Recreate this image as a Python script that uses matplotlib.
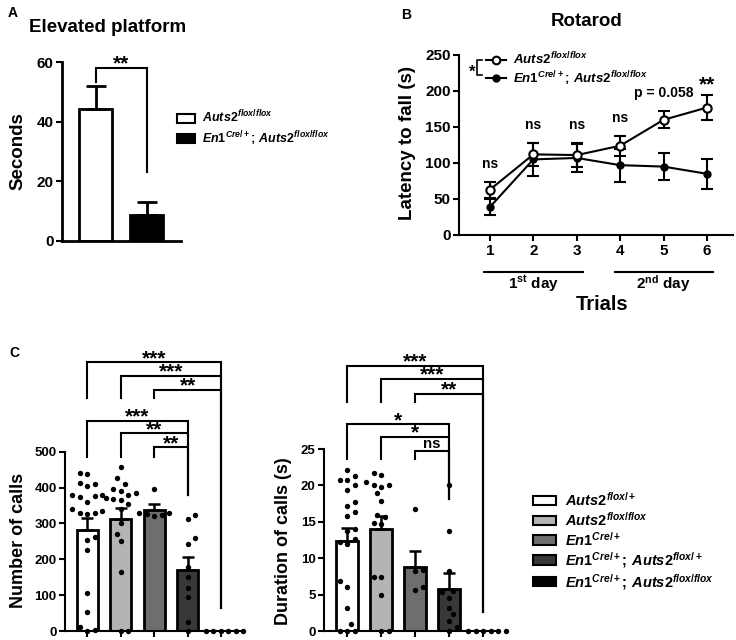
import numpy as np
import matplotlib

matplotlib.use('Agg')
import matplotlib.pyplot as plt
from matplotlib.lines import Line2D
from matplotlib.patches import Patch
from matplotlib.transforms import blended_transform_factory

W, H = 736, 640

# ---- A: elevated platform ----
ep_mean = [44.1, 8.7]
ep_sem = [8.0, 4.5]
ep_colors = ['white', 'black']

# ---- B: rotarod ----
trials = [1, 2, 3, 4, 5, 6]
rr_ctrl_mean = [63, 112, 111, 124, 160, 177]
rr_ctrl_sem = [11, 16, 17, 14, 12, 17]
rr_cko_mean = [39, 105, 107, 97, 95, 85]
rr_cko_sem = [11, 23, 19, 23, 19, 21]
rr_marks = ['ns', 'ns', 'ns', 'ns', 'p = 0.058', '**']
days = [(1, 3, '1$^{\\mathrm{st}}$ day'), (4, 6, '2$^{\\mathrm{nd}}$ day')]

# ---- C: ultrasonic calls ----
c_colors = ['white', '#b4b4b4', '#6e6e6e', '#383838', '#000000']
calls_mean = [283, 311, 337, 169, 0]
calls_sem = [33, 33, 16, 38, 0]
calls_pts = [
    [438, 440, 410, 405, 412, 377, 375, 378, 380, 360, 340, 330, 325, 328,
     335, 262, 255, 225, 105, 52, 10, 3, 0],
    [458, 428, 410, 395, 390, 385, 378, 372, 365, 368, 355, 340, 300, 270,
     250, 165, 0, 0],
    [396, 328, 325, 322, 330, 324],
    [323, 313, 258, 243, 178, 150, 120, 95, 25, 0],
    [0, 0, 0, 0, 0, 0],
]
dur_mean = [12.4, 14.0, 8.8, 5.8, 0]
dur_sem = [1.7, 1.8, 2.2, 2.1, 0]
dur_pts = [
    [22.1, 21.3, 20.7, 20.7, 20.0, 19.4, 17.7, 17.2, 16.4, 15.8, 14.0, 13.8,
     12.6, 12.2, 11.9, 6.9, 6.1, 3.1, 1.0, 0, 0, 0],
    [21.7, 21.4, 20.5, 20.1, 20.0, 19.8, 18.9, 17.9, 15.9, 15.7, 14.9, 14.7,
     7.4, 7.4, 4.9, 0, 0],
    [16.8, 8.4, 8.3, 6.0, 5.7],
    [20.1, 13.7, 8.3, 5.5, 5.3, 4.6, 3.2, 2.3, 1.4, 0.5, 0],
    [0, 0, 0, 0, 0, 0],
]
calls_cmp = [(0, 4, '***'), (1, 4, '***'), (2, 4, '**'),
             (0, 3, '***'), (1, 3, '**'), (2, 3, '**')]
dur_cmp = [(0, 4, '***'), (1, 4, '***'), (2, 4, '**'),
           (0, 3, '*'), (1, 3, '*'), (2, 3, 'ns')]

FF = r'^{\mathit{flox}\mathrm{/}\mathit{flox}}'
F = r'^{\mathit{flox}\mathrm{/+}}'
CRE = r'^{\mathit{Cre}\mathrm{/+}}'
AUTS_F = r'$\mathit{Auts2}' + F + '$'
AUTS_FF = r'$\mathit{Auts2}' + FF + '$'
EN1 = r'$\mathit{En1}' + CRE + '$'
EN1_F = r'$\mathit{En1}' + CRE + r'\mathit{;}\,\mathit{Auts2}' + F + '$'
EN1_FF = r'$\mathit{En1}' + CRE + r'\mathit{;}\,\mathit{Auts2}' + FF + '$'
c_labels = [AUTS_F, AUTS_FF, EN1, EN1_F, EN1_FF]

plt.rcParams.update({
    'font.family': ['Liberation Sans', 'DejaVu Sans'],
    'font.weight': 'bold',
    'mathtext.fontset': 'custom',
    'mathtext.it': 'Liberation Sans:italic:bold',
    'mathtext.rm': 'Liberation Sans:bold',
    'mathtext.bf': 'Liberation Sans:bold',
    'mathtext.sf': 'Liberation Sans:bold',
    'axes.linewidth': 1.5,
    'xtick.major.width': 1.5,
    'ytick.major.width': 1.5,
    'xtick.major.size': 4.5,
    'ytick.major.size': 4.5,
    'xtick.major.pad': 2,
    'ytick.major.pad': 1.5,
})


def px_axes(fig, left, top, right, bottom):
    return fig.add_axes([left / W, 1 - bottom / H,
                         (right - left) / W, (bottom - top) / H])


def style(ax, size):
    for side in ('top', 'right'):
        ax.spines[side].set_visible(False)
    ax.tick_params(labelsize=size)


def ftext(fig, x, y, s, **kw):
    fig.text(x / W, 1 - y / H, s, **kw)


def stars(ax, x, y, s, size):
    if '*' in s:
        ax.annotate(s, (x, y), xytext=(0, -1.2), textcoords='offset points',
                    ha='center', va='baseline', fontsize=size,
                    annotation_clip=False)
    else:
        ax.annotate(s, (x, y), xytext=(0, 0.3), textcoords='offset points',
                    ha='center', va='bottom', fontsize=size * 0.72,
                    annotation_clip=False)


def bracket(ax, x0, x1, y, y0, y1, s, size, lw=1.5):
    ax.plot([x0, x0, x1, x1], [y0, y, y, y1], color='black', lw=lw,
            clip_on=False, solid_joinstyle='miter')
    stars(ax, (x0 + x1) / 2, y, s, size)


def swarm(values, sx, sy, gap=7.5):
    placed = []
    offs = np.zeros(len(values))
    for k in np.argsort(values, kind='stable'):
        y = values[k] * sy
        step = 0
        while True:
            d = step * gap / 2
            cands = [0.0] if step == 0 else ([d, -d] if len(placed) % 2 else [-d, d])
            ok = [c for c in cands
                  if all((c - px) ** 2 + (y - py) ** 2 >= gap ** 2 for px, py in placed)]
            if ok:
                break
            step += 1
        placed.append((ok[0], y))
        offs[k] = ok[0] / sx
    return offs


fig = plt.figure(figsize=(W / 100, H / 100), dpi=100)

# ---------------- A ----------------
axA = px_axes(fig, 62, 62, 181, 241)
style(axA, 11)
xa = np.arange(len(ep_mean))
axA.bar(xa, ep_mean, width=0.63, color=ep_colors, edgecolor='black', linewidth=2)
axA.errorbar(xa, ep_mean, yerr=[np.zeros(2), ep_sem], fmt='none', ecolor='black',
             elinewidth=2, capsize=7, capthick=2)
axA.set_xlim(-0.657, 1.676)
axA.set_ylim(0, 60)
axA.set_yticks([0, 20, 40, 60])
axA.set_xticks([])
axA.spines['left'].set_linewidth(2)
axA.spines['bottom'].set_linewidth(2)
bracket(axA, 0, 1, 58.0, 53.3, 23.1, '**', 15)
ftext(fig, 8, 13, 'A', fontsize=10, va='center')
ftext(fig, 108, 27, 'Elevated platform', fontsize=13.5, ha='center', va='center')
ftext(fig, 18, 151, 'Seconds', fontsize=13.5, rotation=90, ha='center', va='center')
fig.legend(handles=[Patch(fc=c, ec='black', lw=1.5) for c in ep_colors],
           labels=[AUTS_FF, EN1_FF], loc='upper left',
           bbox_to_anchor=(177 / W, 1 - 109 / H), frameon=False, fontsize=9,
           handlelength=1.45, handleheight=0.75, handletextpad=0.55,
           labelspacing=0.3, borderpad=0, borderaxespad=0)

# ---------------- B ----------------
axB = px_axes(fig, 459, 55, 733, 235)
style(axB, 11)
axB.errorbar(trials, rr_cko_mean, yerr=rr_cko_sem, fmt='-o', color='black',
             mfc='black', mec='black', ms=5, lw=1.5, elinewidth=1.5,
             capsize=4.5, capthick=1.5, zorder=2)
axB.errorbar(trials, rr_ctrl_mean, yerr=rr_ctrl_sem, fmt='-o', color='black',
             mfc='white', mec='black', ms=6, mew=1.5, lw=1.5, elinewidth=1.5,
             capsize=4.5, capthick=1.5, zorder=3)
axB.set_xlim(0.286, 6.6)
axB.set_ylim(0, 250)
axB.set_yticks(range(0, 251, 50))
axB.set_xticks(trials)
for t, m, a, sa, b, sb in zip(trials, rr_marks, rr_ctrl_mean, rr_ctrl_sem,
                              rr_cko_mean, rr_cko_sem):
    top = max(a + sa, b + sb)
    if '*' in m:
        stars(axB, t, top + 9, m, 15)
    else:
        axB.annotate(m, (t, top), xytext=(0, 8), textcoords='offset points',
                     ha='center', va='bottom', fontsize=10)
tr = blended_transform_factory(axB.transData, axB.transAxes)
for d0, d1, lab in days:
    axB.plot([d0 - 0.13, d1 + 0.14], [-0.205, -0.205], color='black', lw=1.5,
             transform=tr, clip_on=False)
    axB.text((d0 + d1) / 2, -0.27, lab, transform=tr, ha='center', va='center',
             fontsize=11)
ftext(fig, 602, 305, 'Trials', fontsize=14.5, ha='center', va='center')
ftext(fig, 407, 143, 'Latency to fall (s)', fontsize=13.5, rotation=90,
      ha='center', va='center')
ftext(fig, 587, 22, 'Rotarod', fontsize=13.5, ha='center', va='center')
ftext(fig, 401, 15, 'B', fontsize=10, va='center')
axB.legend(handles=[Line2D([], [], color='black', lw=1.5, marker='o', mfc='white',
                           mec='black', ms=5.5, mew=1.5),
                    Line2D([], [], color='black', lw=1.5, marker='o', mfc='black',
                           ms=5)],
           labels=[AUTS_FF, EN1_FF], loc='upper left',
           bbox_to_anchor=((486 - 459) / 274, (235 - 51) / 180), frameon=False,
           fontsize=9.5, handlelength=1.5, handletextpad=0.55, labelspacing=0.1,
           borderpad=0, borderaxespad=0)
axB.plot([0.085, 0.066, 0.066, 0.085], [0.972, 0.972, 0.889, 0.889],
         color='black', lw=1.2, transform=axB.transAxes, clip_on=False)
axB.text(0.048, 0.905, '*', transform=axB.transAxes, ha='center', va='center',
         fontsize=12)

# ---------------- C ----------------
ftext(fig, 9, 353, 'C', fontsize=10, va='center')


def panel_c(ax, means, sems, pts, cmp, levels, ylim, yticks, bar_w):
    style(ax, 9.5)
    xc = np.arange(len(means))
    ax.bar(xc, means, width=bar_w, color=c_colors, edgecolor='black',
           linewidth=2, zorder=1)
    ax.errorbar(xc, means, yerr=[np.zeros(len(sems)), sems], fmt='none',
                ecolor='black', elinewidth=1.8, capsize=4.5, capthick=1.8,
                zorder=2)
    ax.set_ylim(0, ylim)
    ax.set_yticks(yticks)
    ax.set_xticks(xc)
    ax.set_xticklabels([])
    pos = ax.get_position()
    x0, x1 = ax.get_xlim()
    sx = pos.width * W / (x1 - x0)
    sy = pos.height * H / ylim
    for i, vals in enumerate(pts):
        offs = swarm(vals, sx, sy)
        ax.scatter(i + offs, vals, s=15, color='black', zorder=3, clip_on=False,
                   linewidths=0)
    for (i, j, lab), (y, y0, y1) in zip(cmp, levels):
        bracket(ax, i, j, y, y0, y1, lab, 15)


axC1 = px_axes(fig, 65, 451.7, 243, 631)
axC1.set_xlim(-0.67, 4.66)
panel_c(axC1, calls_mean, calls_sem, calls_pts, calls_cmp,
        [(749, 649, 63), (711, 649, 63), (672, 649, 63),
         (586, 486, 379), (551, 486, 379), (512, 486, 379)],
        500, range(0, 501, 100), 0.63)
ftext(fig, 19, 540, 'Number of calls', fontsize=13, rotation=90,
      ha='center', va='center')

axC2 = px_axes(fig, 324, 449, 497, 631)
axC2.set_xlim(-0.68, 4.41)
panel_c(axC2, dur_mean, dur_sem, dur_pts, dur_cmp,
        [(36.4, 31.4, 2.65), (34.6, 31.4, 2.65), (32.6, 31.4, 2.65),
         (28.4, 23.6, 18.2), (26.7, 23.6, 18.2), (24.7, 23.6, 18.2)],
        25, range(0, 26, 5), 0.64)
ftext(fig, 283, 541, 'Duration of calls (s)', fontsize=13, rotation=90,
      ha='center', va='center')

fig.legend(handles=[Patch(fc=c, ec='black', lw=1.5) for c in c_colors],
           labels=c_labels, loc='upper left',
           bbox_to_anchor=(533 / W, 1 - 491 / H), frameon=False, fontsize=10.5,
           handlelength=1.55, handleheight=0.6, handletextpad=0.65,
           labelspacing=0.12, borderpad=0, borderaxespad=0)

fig.savefig('out.png', dpi=100)
